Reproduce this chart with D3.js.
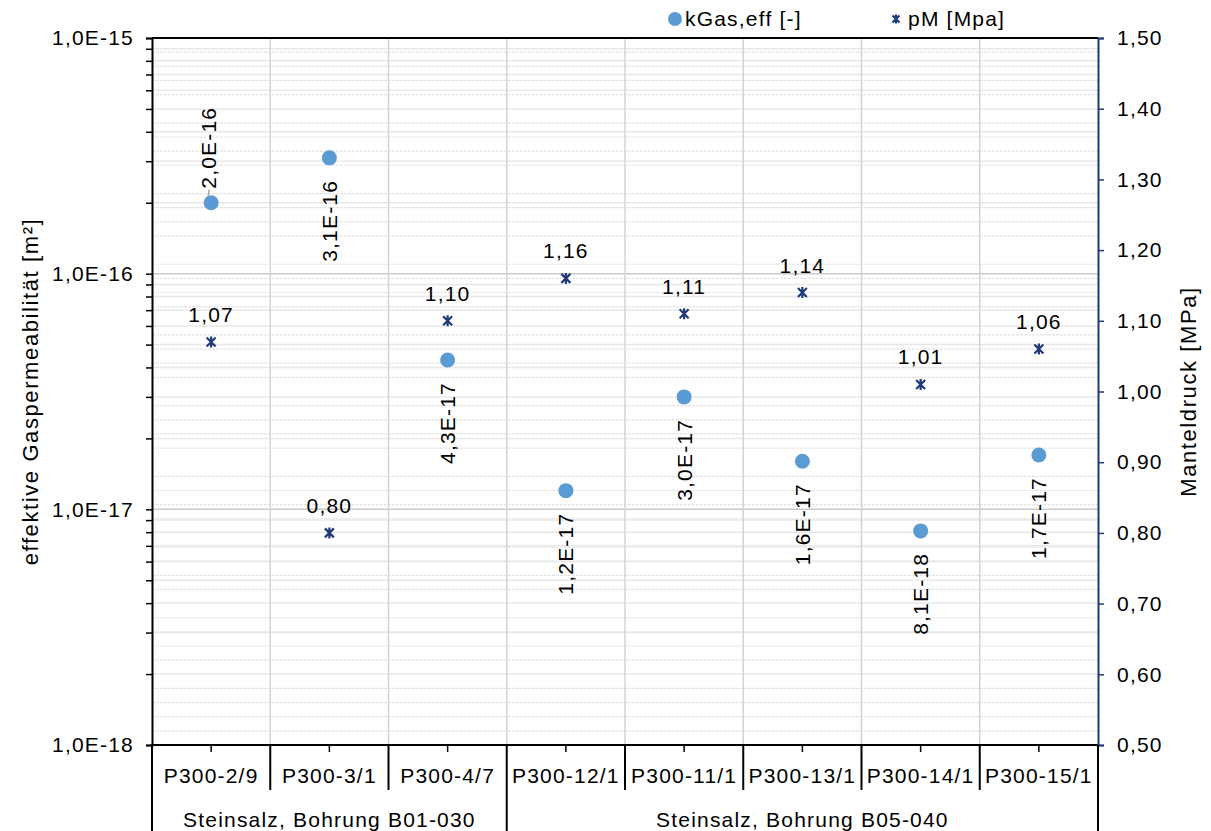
<!DOCTYPE html>
<html><head><meta charset="utf-8">
<script src="https://d3js.org/d3.v7.min.js"></script>
<style>
body{margin:0;background:#fff;}
text{font-family:"Liberation Sans",Arial,sans-serif;fill:#000;}
</style></head>
<body><svg id="c" width="1211" height="831"></svg>
<script>
const categories = ["P300-2/9","P300-3/1","P300-4/7","P300-12/1","P300-11/1","P300-13/1","P300-14/1","P300-15/1"];
const kGas = [2.0e-16, 3.1e-16, 4.3e-17, 1.2e-17, 3.0e-17, 1.6e-17, 8.1e-18, 1.7e-17];
const pM = [1.07, 0.80, 1.10, 1.16, 1.11, 1.14, 1.01, 1.06];
const groups = [{name:"Steinsalz, Bohrung B01-030", from:0, to:2},{name:"Steinsalz, Bohrung B05-040", from:3, to:7}];
const leftTicks = [1e-15, 1e-16, 1e-17, 1e-18];
const rightTicks = [0.5,0.6,0.7,0.8,0.9,1.0,1.1,1.2,1.3,1.4,1.5];
const kLabelAbove = [true,false,false,false,false,false,false,false];

const L=152, R=1098, T=38, B=745;
const FS = 21, LS = "1.2px";
const navy = "#1f3a78", blue = "#5b9bd5";
const svg = d3.select("#c");
const x = d3.scaleBand().domain(categories).range([L,R]).padding(0);
const yL = d3.scaleLog().domain([1e-18,1e-15]).range([B,T]);
const yR = d3.scaleLinear().domain([0.5,1.5]).range([B,T]);
const fmtE = v => v.toExponential(1).replace(".",",").replace("e","E");
const fmtP = v => d3.format(".2f")(v).replace(".",",");

// minor gridlines
const minorLog = [];
for (let e=-18;e<-15;e++) for (let m=2;m<=9;m++) minorLog.push(m*Math.pow(10,e));
const minorR = d3.range(0.52,1.5,0.02).filter(v=>Math.abs(Math.round(v*10)-v*10)>1e-6);
const g = svg.append("g");
g.selectAll(".mr").data(minorR).join("line")
  .attr("x1",L).attr("x2",R).attr("y1",d=>yR(d)).attr("y2",d=>yR(d))
  .attr("stroke","#e4e4e4").attr("stroke-width",1.2).attr("stroke-dasharray","3,1");
g.selectAll(".ml").data(minorLog).join("line")
  .attr("x1",L).attr("x2",R).attr("y1",d=>yL(d)).attr("y2",d=>yL(d))
  .attr("stroke","#e8e8e8").attr("stroke-width",1.5);
g.selectAll(".mj").data([1e-16,1e-17]).join("line")
  .attr("x1",L).attr("x2",R).attr("y1",d=>yL(d)).attr("y2",d=>yL(d))
  .attr("stroke","#c9c9c9").attr("stroke-width",1.5);
// vertical gridlines
const bounds = categories.slice(1).map(c=>x(c));
g.selectAll(".vg").data(bounds).join("line")
  .attr("x1",d=>d).attr("x2",d=>d).attr("y1",T).attr("y2",B)
  .attr("stroke","#d4d4d4").attr("stroke-width",1.5);

// left axis
const axL = d3.axisLeft(yL).tickValues(leftTicks.concat(minorLog)).tickSize(6).tickFormat(d=>leftTicks.includes(d)?fmtE(d):"");
const gL = svg.append("g").attr("transform",`translate(${L},0)`).call(axL);
gL.select(".domain").attr("stroke","#000").attr("stroke-width",2);
gL.selectAll(".tick line").attr("stroke","#000").attr("stroke-width",1.5);
gL.selectAll(".tick text").attr("font-size",FS).attr("letter-spacing",LS).attr("x",-18).attr("font-family","Liberation Sans, Arial");
// top border
svg.append("line").attr("x1",L).attr("x2",R).attr("y1",T).attr("y2",T).attr("stroke","#000").attr("stroke-width",2);

// right axis
const axR = d3.axisRight(yR).tickValues(rightTicks).tickSize(6).tickFormat(fmtP);
const gR = svg.append("g").attr("transform",`translate(${R},0)`).call(axR);
gR.select(".domain").attr("stroke",navy).attr("stroke-width",2);
gR.selectAll(".tick line").attr("stroke",navy).attr("stroke-width",1.5);
gR.selectAll(".tick text").attr("font-size",FS).attr("letter-spacing",LS).attr("x",19).attr("font-family","Liberation Sans, Arial");

// bottom axis
const axB = d3.axisBottom(x).tickSize(7).tickFormat("");
const gB = svg.append("g").attr("transform",`translate(0,${B})`).call(axB);
gB.select(".domain").remove();
gB.selectAll(".tick line").attr("stroke","#000").attr("stroke-width",1.5);
svg.append("line").attr("x1",L-1).attr("x2",R).attr("y1",B).attr("y2",B).attr("stroke","#000").attr("stroke-width",2);
svg.selectAll(".clab").data(categories).join("text")
  .attr("x",d=>x(d)+x.bandwidth()/2).attr("y",B+38).attr("text-anchor","middle")
  .attr("font-size",FS).attr("letter-spacing",LS).text(d=>d);
// separators
const groupEdges = new Set();
groups.forEach(gp=>{groupEdges.add(gp.from); groupEdges.add(gp.to+1);});
const sepIdx = d3.range(0,categories.length+1);
svg.selectAll(".sep").data(sepIdx).join("line")
  .attr("x1",i=>i<categories.length?x(categories[i]):R).attr("x2",i=>i<categories.length?x(categories[i]):R)
  .attr("y1",B).attr("y2",i=>groupEdges.has(i)?831:B+45)
  .attr("stroke","#000").attr("stroke-width",2);
svg.selectAll(".glab").data(groups).join("text")
  .attr("x",d=>(x(categories[d.from])+x(categories[d.to])+x.bandwidth())/2).attr("y",B+82)
  .attr("text-anchor","middle").attr("font-size",FS).attr("letter-spacing",LS).text(d=>d.name);

// axis titles
svg.append("text").attr("transform",`translate(38,${(T+B)/2}) rotate(-90)`).attr("text-anchor","middle")
  .attr("font-size",22).attr("letter-spacing","1.6px").text("effektive Gaspermeabilität [m²]");
svg.append("text").attr("transform",`translate(1196,${(T+B)/2}) rotate(-90)`).attr("text-anchor","middle")
  .attr("font-size",22).attr("letter-spacing","1.6px").text("Manteldruck [MPa]");

// star marker
const starPath = s => `M${-s},${-s}L${s},${s}M${-s},${s}L${s},${-s}M0,${-s-1}L0,${s+1}`;
const cx = i => x(categories[i]) + x.bandwidth()/2;

// kGas points
svg.selectAll(".kp").data(kGas).join("circle")
  .attr("cx",(d,i)=>cx(i)).attr("cy",d=>yL(d)).attr("r",7.5).attr("fill",blue);
// kGas labels
kGas.forEach((d,i)=>{
  const px = cx(i), py = yL(d);
  if (kLabelAbove[i]) {
    svg.append("line").attr("x1",px-3).attr("y1",py-6).attr("x2",px-2).attr("y2",py-13).attr("stroke","#a6a6a6").attr("stroke-width",1.5);
    svg.append("text").attr("transform",`translate(${px-3},${py-14}) rotate(-90)`)
      .attr("text-anchor","start").attr("dominant-baseline","central")
      .attr("font-size",FS).attr("letter-spacing",LS).text(fmtE(d));
  } else {
    svg.append("text").attr("transform",`translate(${px},${py+22}) rotate(-90)`)
      .attr("text-anchor","end").attr("dominant-baseline","central")
      .attr("font-size",FS).attr("letter-spacing",LS).text(fmtE(d));
  }
});
// pM points
svg.selectAll(".pp").data(pM).join("path")
  .attr("transform",(d,i)=>`translate(${cx(i)},${yR(d)})`).attr("d",starPath(4.5))
  .attr("stroke",navy).attr("stroke-width",2.2).attr("fill","none");
svg.selectAll(".pl").data(pM).join("text")
  .attr("x",(d,i)=>cx(i)).attr("y",d=>yR(d)-20).attr("text-anchor","middle")
  .attr("font-size",FS).attr("letter-spacing",LS).text(fmtP);

// legend
svg.append("circle").attr("cx",675).attr("cy",19).attr("r",7).attr("fill",blue);
svg.append("text").attr("x",685).attr("y",26).attr("font-size",FS).attr("letter-spacing",LS).text("kGas,eff [-]");
svg.append("path").attr("transform","translate(896,19)").attr("d",starPath(3.5)).attr("stroke",navy).attr("stroke-width",2.2).attr("fill","none");
svg.append("text").attr("x",908).attr("y",26).attr("font-size",FS).attr("letter-spacing",LS).text("pM [Mpa]");
</script></body></html>
